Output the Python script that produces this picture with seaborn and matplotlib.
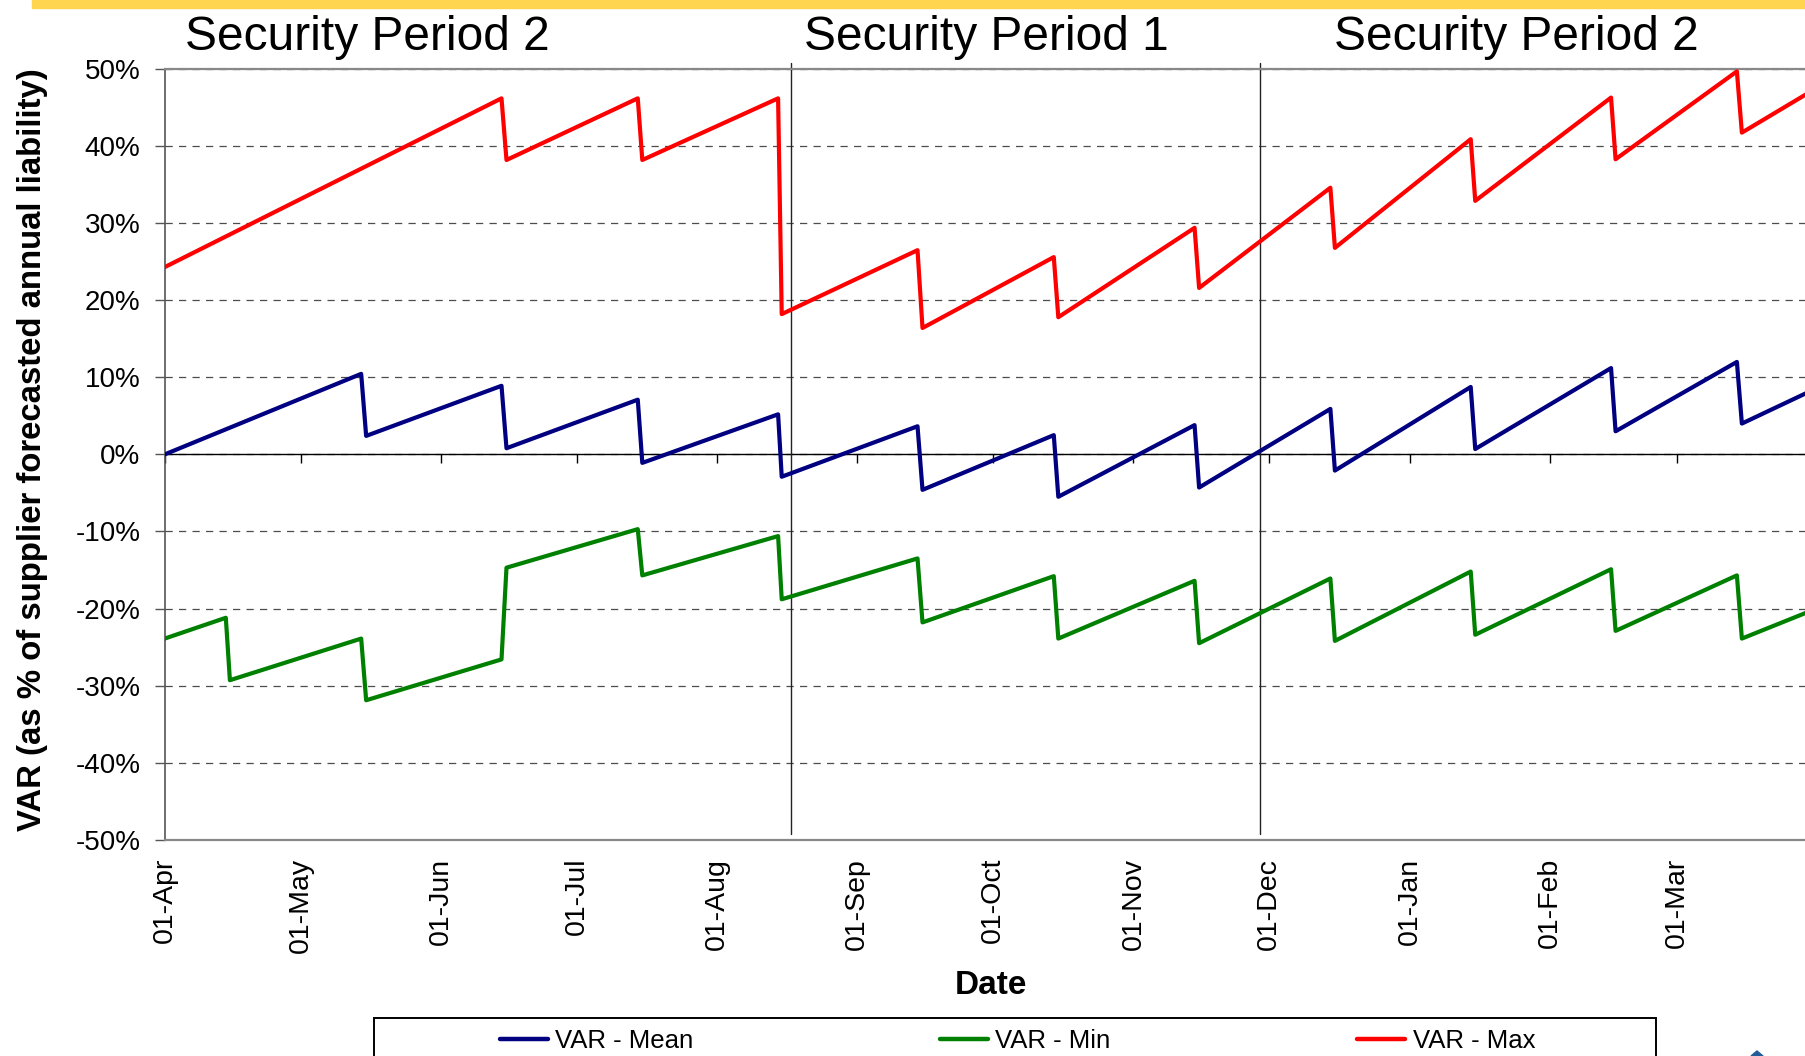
import numpy as np
import pandas as pd
import matplotlib
matplotlib.use("Agg")
import matplotlib.pyplot as plt
import seaborn as sns
from matplotlib.patches import Rectangle, Polygon
from matplotlib.lines import Line2D

# ---------------- data (x = days since 01-Apr, y = % of liability) ----------------
max_days = [0, 74.4, 75.5, 104.5, 105.5, 135.5, 136.3, 166.3, 167.4, 196.4, 197.4,
            227.5, 228.5, 257.5, 258.5, 288.5, 289.5, 319.5, 320.5, 347.3, 348.4, 362.8]
max_vals = [24.3, 46.2, 38.2, 46.2, 38.2, 46.2, 18.2, 26.5, 16.4, 25.6, 17.8,
            29.4, 21.6, 34.6, 26.8, 40.9, 32.9, 46.3, 38.3, 49.7, 41.75, 46.8]

mean_days = [0, 43.4, 44.5, 74.4, 75.5, 104.5, 105.5, 135.5, 136.3, 166.3, 167.4,
             196.4, 197.4, 227.5, 228.5, 257.5, 258.5, 288.5, 289.5, 319.5, 320.5,
             347.3, 348.4, 362.8]
mean_vals = [0.0, 10.45, 2.4, 8.9, 0.8, 7.1, -1.1, 5.2, -2.9, 3.65, -4.6,
             2.5, -5.5, 3.8, -4.3, 5.9, -2.1, 8.75, 0.7, 11.2, 3.0,
             12.0, 4.0, 8.0]

min_days = [0, 13.5, 14.4, 43.4, 44.5, 74.4, 75.5, 104.5, 105.5, 135.5, 136.3,
            166.3, 167.4, 196.4, 197.4, 227.5, 228.5, 257.5, 258.5, 288.5, 289.5,
            319.5, 320.5, 347.3, 348.4, 362.8]
min_vals = [-23.9, -21.2, -29.3, -23.9, -31.9, -26.6, -14.7, -9.7, -15.7, -10.6, -18.8,
            -13.5, -21.8, -15.8, -23.9, -16.4, -24.5, -16.1, -24.2, -15.2, -23.4,
            -14.9, -22.9, -15.7, -23.9, -20.5]

series_names = ["VAR - Mean", "VAR - Min", "VAR - Max"]
series_colors = ["#000080", "#008000", "#FF0000"]

month_start_days = [0, 30, 61, 91, 122, 153, 183, 214, 244, 275, 306, 334]
month_labels = ["01-Apr", "01-May", "01-Jun", "01-Jul", "01-Aug", "01-Sep",
                "01-Oct", "01-Nov", "01-Dec", "01-Jan", "01-Feb", "01-Mar"]
y_ticks = [-50, -40, -30, -20, -10, 0, 10, 20, 30, 40, 50]

period_boundaries = [138.3, 241.9]
period_titles = ["Security Period 2", "Security Period 1", "Security Period 2"]

# ---------------- build frame ----------------
frames = []
for name, d, v in [("VAR - Mean", mean_days, mean_vals),
                   ("VAR - Min", min_days, min_vals),
                   ("VAR - Max", max_days, max_vals)]:
    frames.append(pd.DataFrame({"day": d, "value": v, "series": name}))
df = pd.concat(frames, ignore_index=True)

# ---------------- style ----------------
sns.set_theme(style="white")
plt.rcParams["font.family"] = ["Liberation Sans", "DejaVu Sans"]
plt.rcParams["text.color"] = "black"
plt.rcParams["axes.labelcolor"] = "black"
plt.rcParams["xtick.color"] = "black"
plt.rcParams["ytick.color"] = "black"

fig = plt.figure(figsize=(18.06, 10.56), dpi=100)
ax = fig.add_axes([0.0912, 0.2048, 0.9149, 0.7298])

sns.lineplot(data=df, x="day", y="value", hue="series", hue_order=series_names,
             palette=series_colors, estimator=None, sort=False, linewidth=3.0,
             legend=False, ax=ax, zorder=3)

ax.set_xlim(0, 365)
ax.set_ylim(-50, 50)

# y axis
ax.set_yticks(y_ticks)
ax.set_yticklabels([f"{t}%" for t in y_ticks])
ax.tick_params(axis="y", direction="out", length=7, width=1.0, color="#555555",
               labelcolor="black", pad=10.5, labelsize=20, left=True)
ax.grid(axis="y", linestyle=(0, (5.8, 5.0)), color="#4d4d4d", linewidth=0.9)
ax.grid(axis="x", visible=False)

# x axis labels at the bottom
ax.set_xticks(month_start_days)
ax.set_xticklabels(month_labels, rotation=90)
ax.tick_params(axis="x", length=0, pad=13, labelsize=20.5, labelcolor="black")

ax.set_xlabel("Date", fontsize=24, fontweight="bold", labelpad=12, color="black")
ax.set_ylabel("")

# spines
for s in ["top", "bottom"]:
    ax.spines[s].set_color("#888888")
    ax.spines[s].set_linewidth(1.6)
ax.spines["left"].set_color("#555555")
ax.spines["left"].set_linewidth(1.2)
ax.spines["right"].set_visible(False)

# zero line axis with tick marks hanging down
sec = ax.secondary_xaxis(0.5)
sec.set_xticks(month_start_days)
sec.tick_params(direction="in", length=6.5, width=1.0, color="black",
                labeltop=False, labelbottom=False)
for s in sec.spines.values():
    s.set_color("black")
    s.set_linewidth(1.0)
sec.set_zorder(1.5)

# period boundary lines
for d in period_boundaries:
    ax.plot([d, d], [50.85, -49.3], color="#222222", linewidth=1.0,
            clip_on=False, zorder=2)

# titles above the plot
title_x = [0.2035, 0.5460, 0.8395]
for tx, tt in zip(title_x, period_titles):
    fig.text(tx, 0.953, tt, ha="center", va="baseline", fontsize=34.5, color="black")

# y label
fig.text(0.0179, 0.574, "VAR (as % of supplier forecasted annual liability)",
         rotation=90, ha="center", va="center", fontsize=23.7, fontweight="bold",
         color="black")

# yellow bar at the top
fig.patches.append(Rectangle((0.0177, 1 - 8 / 1056), 1.0, 8 / 1056,
                             transform=fig.transFigure, color="#FFD54F", zorder=0))

# legend frame (cut by bottom edge) and entries
fig.patches.append(Rectangle((374 / 1806, -0.05), (1656 - 374) / 1806, 0.05 + 1 - 1018 / 1056,
                             transform=fig.transFigure, facecolor="white",
                             edgecolor="black", linewidth=1.4, zorder=1))
handles = [Line2D([], [], color=c, linewidth=3.2) for c in series_colors]
fig.legend(handles, series_names, loc="center left",
           bbox_to_anchor=(500 / 1806, 1 - 1041 / 1056), ncol=3, frameon=False,
           fontsize=18.5, handlelength=1.87, handletextpad=0.28, columnspacing=9.6,
           borderpad=0.0, borderaxespad=0.0, labelcolor="black")

# small logo fragment bottom-right
fig.patches.append(Polygon([[1751 / 1806, 0.0], [1763 / 1806, 0.0], [1757 / 1806, 5 / 1056]],
                           closed=True, transform=fig.transFigure, color="#1F5C99"))

fig.savefig("out.png", dpi=100)
